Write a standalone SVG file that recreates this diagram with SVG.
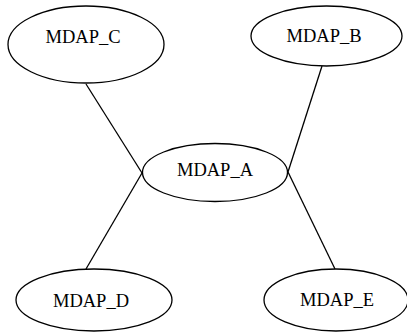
<svg xmlns="http://www.w3.org/2000/svg" width="407" height="333" viewBox="0 0 407 333">
<style>
.n ellipse{fill:#fff;stroke:#000;stroke-width:1.3}
.n text{font-family:"Liberation Serif","Times New Roman",serif;font-size:18.5px;fill:#000;text-anchor:middle}
#edges line{stroke:#000;stroke-width:1.3}
</style>
<rect width="407" height="333" fill="#fff"/>
<g id="edges">
<line x1="86" y1="84" x2="142" y2="173"/>
<line x1="142" y1="173" x2="86" y2="269"/>
<line x1="322" y1="66" x2="288" y2="172"/>
<line x1="288" y1="172" x2="335" y2="269"/>
</g>
<g id="MDAP_C" class="n"><ellipse cx="86" cy="44.5" rx="78" ry="38.5"/><text x="83" y="43">MDAP_C</text></g>
<g id="MDAP_B" class="n"><ellipse cx="326.5" cy="36" rx="75.5" ry="30"/><text x="324" y="42">MDAP_B</text></g>
<g id="MDAP_A" class="n"><ellipse cx="215" cy="172.5" rx="72.5" ry="29"/><text x="215" y="176">MDAP_A</text></g>
<g id="MDAP_D" class="n"><ellipse cx="94" cy="300" rx="78" ry="31"/><text x="91" y="307">MDAP_D</text></g>
<g id="MDAP_E" class="n"><ellipse cx="336" cy="300" rx="72" ry="31"/><text x="337" y="306">MDAP_E</text></g>
</svg>
